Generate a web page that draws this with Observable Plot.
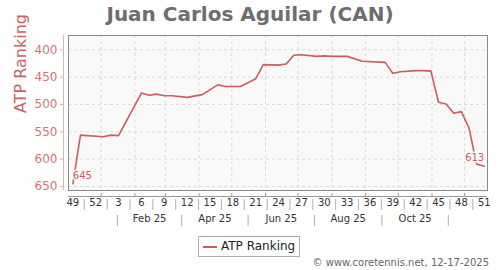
<!DOCTYPE html>
<html><head><meta charset="utf-8">
<script src="https://cdn.jsdelivr.net/npm/d3@7"></script>
<script src="https://cdn.jsdelivr.net/npm/@observablehq/plot@0.6"></script>
<style>
body{margin:0;background:#fff;font-family:"DejaVu Sans",sans-serif;width:500px;height:270px;position:relative;overflow:hidden}
#title{position:absolute;left:0;top:4px;width:500px;text-align:center;font-weight:bold;font-size:20px;line-height:20px;color:#6e6e6e;white-space:nowrap}
#chart{position:absolute;left:0;top:30px}
#legend{position:absolute;left:198px;top:236px;width:100px;height:19px;border:1px solid #b0b0b0;background:#fff}
#legend .swatch{position:absolute;left:4px;top:9px;width:14px;height:0;border-top:2px solid #cd5c5c}
#legend .lbl{position:absolute;left:22px;top:3px;font-size:12px;line-height:13px;color:#222;white-space:nowrap}
#footer{position:absolute;right:11px;top:258px;font-size:10px;line-height:10px;color:#666;white-space:nowrap}
</style></head>
<body>
<div id="title"></div>
<div id="chart"></div>
<div id="legend"><div class="swatch"></div><div class="lbl"></div></div>
<div id="footer"></div>
<script>
// ---- data ----
const chartTitle = "Juan Carlos Aguilar (CAN)";
const seriesName = "ATP Ranking";
const footerText = "© www.coretennis.net, 12-17-2025";

const rankDates = ["2024-12-06","2024-12-13","2025-01-03","2025-01-10","2025-01-17","2025-02-07","2025-02-14","2025-02-21","2025-02-28","2025-03-07",
  "2025-03-21","2025-04-04","2025-04-18","2025-04-25","2025-05-09","2025-05-23","2025-05-30","2025-06-13","2025-06-20","2025-06-27",
  "2025-07-04","2025-07-18","2025-07-25","2025-08-01","2025-08-15","2025-08-29","2025-09-19","2025-09-26","2025-10-03","2025-10-17",
  "2025-10-24","2025-10-31","2025-11-07","2025-11-14","2025-11-21","2025-11-28","2025-12-05","2025-12-12","2025-12-19"];
const ranks = [645,556,559,556,557,479,483,481,484,484,
  487,482,464,467,467,453,427,428,426,410,
  409,412,411,412,412,421,423,443,440,438,
  438,439,496,499,516,513,543,609,613];

const weekLabels = ["49","52","3","6","9","12","15","18","21","24","27","30","33","36","39","42","45","48","51"];
const weekLabelDates = ["2024-12-06","2024-12-27","2025-01-17","2025-02-07","2025-02-28","2025-03-21","2025-04-11","2025-05-02","2025-05-23","2025-06-13",
  "2025-07-04","2025-07-25","2025-08-15","2025-09-05","2025-09-26","2025-10-17","2025-11-07","2025-11-28","2025-12-19"];
const monthLabels = ["Feb 25","Apr 25","Jun 25","Aug 25","Oct 25"];
const monthSeparators = ["2025-01-16","2025-03-16","2025-05-16","2025-07-16","2025-09-16","2025-11-16"];
const monthStarts = ["2025-01-01","2025-02-01","2025-03-01","2025-04-01","2025-05-01","2025-06-01","2025-07-01","2025-08-01","2025-09-01","2025-10-01","2025-11-01","2025-12-01"];
const yTicks = [400,450,500,550,600,650];
const xDomain = ["2024-12-02","2025-12-22"];
const yDomain = [373.8,657.3];

// ---- derived ----
const data = rankDates.map((d,i)=>({date:new Date(d), rank:ranks[i]}));
const wDates = weekLabelDates.map(d=>new Date(d));
const weekSeps = wDates.slice(1).map((d,i)=>new Date((+d + +wDates[i])/2));
const mSeps = monthSeparators.map(d=>new Date(d));
const monthLabelDates = monthLabels.map((m,i)=>new Date((+mSeps[i] + +mSeps[i+1])/2));
const gridDates = monthStarts.map(d=>new Date(d));
const xd = xDomain.map(d=>new Date(d));

const lineColor = "#cd5c5c";
const plotBg = "#f9f9f9";

document.getElementById("title").textContent = chartTitle;
document.querySelector("#legend .lbl").textContent = seriesName;
document.getElementById("footer").textContent = footerText;

const chart = Plot.plot({
  width:500, height:200,
  marginTop:5, marginBottom:40, marginLeft:68, marginRight:13,
  style:{fontFamily:"DejaVu Sans, sans-serif", background:"transparent", overflow:"visible"},
  x:{type:"utc", domain:xd, axis:null},
  y:{domain:yDomain, reverse:true, axis:null},
  marks:[
    Plot.frame({fill:plotBg, stroke:null}),
    Plot.ruleY(yTicks, {stroke:"#d9d9d9", strokeDasharray:"3,3"}),
    Plot.ruleX(gridDates, {stroke:"#d9d9d9", strokeDasharray:"3,3"}),
    Plot.frame({stroke:"#8a8a8a", fill:null}),
    // data line
    Plot.line(data, {x:"date", y:"rank", stroke:lineColor, strokeWidth:1.6}),
    // first / last value labels
    Plot.text([data[0]], {x:"date", y:"rank", text:d=>String(d.rank), textAnchor:"start", dx:0, dy:-8,
      fontSize:10, fill:lineColor, stroke:plotBg, strokeWidth:3}),
    Plot.text([data[data.length-1]], {x:"date", y:"rank", text:d=>String(d.rank), textAnchor:"end", dx:0, dy:-8.5,
      fontSize:10, fill:lineColor, stroke:plotBg, strokeWidth:3}),
    // y axis
    Plot.ruleX([xd[0]], {dx:-5, stroke:"#e3b3b3"}),
    Plot.ruleY(yTicks, {dx:-8, insetRight:416, stroke:"#e3b3b3"}),
    Plot.text(yTicks, {y:d=>d, text:d=>String(d), frameAnchor:"left", textAnchor:"end", dx:-11, fontSize:12, fill:"#d47474"}),
    Plot.text([seriesName], {frameAnchor:"left", rotate:-90, dx:-48, fontSize:16, fill:"#c96363"}),
    // x axis
    Plot.ruleY([yDomain[1]], {dy:6, stroke:"#9a9a9a"}),
    Plot.ruleX(gridDates, {dy:6, insetTop:152, stroke:"#9a9a9a"}),
    Plot.text(weekLabels, {x:(d,i)=>wDates[i], text:d=>d, frameAnchor:"bottom", dy:15, fontSize:10, fill:"#333"}),
    Plot.ruleX(weekSeps, {dy:20, insetTop:144, stroke:"#b0b0b0"}),
    Plot.text(monthLabels, {x:(d,i)=>monthLabelDates[i], text:d=>d, frameAnchor:"bottom", dy:31, fontSize:10, fill:"#333"}),
    Plot.ruleX(mSeps, {dy:36, insetTop:144, stroke:"#b0b0b0"})
  ]
});
document.getElementById("chart").appendChild(chart);
</script>
</body></html>
